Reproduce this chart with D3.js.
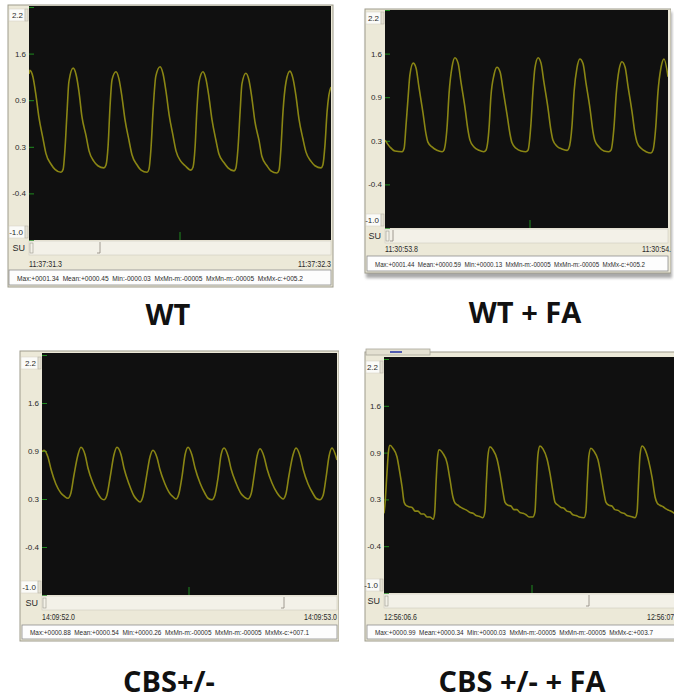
<!DOCTYPE html>
<html>
<head>
<meta charset="utf-8">
<title>Pressure traces - WT / CBS</title>
<script src="https://d3js.org/d3.v7.min.js"></script>
<style>
  body { margin: 0; background: #fff; }
  svg { display: block; }
  .small { font-family: "Liberation Sans", Arial, sans-serif; fill: #2a2a2a; }
  .tick text { font-family: "Liberation Sans", Arial, sans-serif; font-size: 8px; fill: #2a2a2a; }
</style>
</head>
<body>
<div id="vis"></div>
<script>
// ---- data (time in ms from window start, value in SU) ----
var wtTime = [0,3,13,23,33,46,56,73,86,106,113,119,126,132,
  146,156,166,175,189,199,215,228,248,255,262,268,275,
  288,298,308,318,331,341,358,371,391,397,404,411,420,
  434,444,454,464,477,487,503,517,536,543,550,556,563,
  576,586,596,606,619,629,646,659,679,685,692,699,705,
  718,728,738,748,762,771,788,801,821,828,834,841,851,
  864,874,884,894,907,917,934,947,967,973,980,987,993,1000];
var wtSU = [1.28,1.33,1.24,0.99,0.68,0.40,0.19,0.04,-0.03,-0.07,-0.03,0.24,0.76,1.17,
  1.36,1.27,1.02,0.70,0.43,0.22,0.08,0.02,-0.01,0.03,0.30,0.81,1.20,
  1.31,1.21,0.96,0.65,0.37,0.17,0.03,-0.04,-0.07,-0.03,0.26,0.79,1.25,
  1.38,1.28,1.03,0.72,0.43,0.22,0.08,0.02,-0.04,0.00,0.28,0.79,1.17,
  1.31,1.21,0.96,0.65,0.37,0.18,0.06,-0.01,-0.05,-0.01,0.26,0.76,1.14,
  1.29,1.20,0.95,0.63,0.36,0.15,0.02,-0.05,-0.08,-0.04,0.24,0.76,1.17,
  1.32,1.22,0.98,0.66,0.39,0.21,0.08,0.02,-0.01,0.03,0.30,0.76,0.99,1.10];

var wtFaTime = [0,17,34,59,66,72,79,86,
  97,107,117,131,141,148,162,179,197,203,214,221,231,
  241,252,262,276,286,293,307,324,341,348,359,365,376,
  386,397,407,421,431,438,452,469,486,493,503,510,517,
  528,538,548,562,572,579,593,610,628,634,645,652,662,
  672,683,693,707,717,724,738,755,772,779,790,797,807,
  817,828,838,852,862,869,883,900,917,924,934,941,952,
  962,976];
var wtFaSU = [0.29,0.19,0.13,0.12,0.17,0.48,0.88,1.25,
  1.42,1.35,1.07,0.69,0.39,0.26,0.19,0.14,0.12,0.14,0.48,0.98,1.36,
  1.50,1.42,1.14,0.76,0.44,0.29,0.19,0.14,0.12,0.14,0.48,0.92,1.25,
  1.36,1.29,1.03,0.66,0.38,0.25,0.17,0.13,0.12,0.14,0.51,1.00,1.35,
  1.50,1.42,1.14,0.76,0.44,0.29,0.20,0.16,0.14,0.17,0.51,1.00,1.35,
  1.48,1.41,1.13,0.75,0.42,0.28,0.19,0.13,0.12,0.14,0.50,0.95,1.32,
  1.44,1.36,1.08,0.70,0.39,0.26,0.17,0.12,0.10,0.14,0.50,0.98,1.36,
  1.48,1.22];

var cbsTime = [0,7,20,31,47,64,75,88,98,108,122,
  132,146,156,173,190,200,210,220,231,244,
  254,268,278,295,312,322,332,342,353,366,
  376,390,400,417,434,444,454,464,475,485,
  495,508,519,536,553,563,576,586,597,607,
  617,631,641,658,675,685,698,709,719,729,
  739,753,763,780,797,807,817,827,837,851,
  861,875,885,902,919,929,942,953,963,973,
  983,993,1000];
var cbsSU = [0.91,0.93,0.84,0.67,0.48,0.36,0.32,0.29,0.36,0.59,0.87,
  0.97,0.87,0.69,0.49,0.35,0.29,0.27,0.33,0.57,0.87,
  0.97,0.87,0.69,0.48,0.32,0.27,0.24,0.31,0.55,0.84,
  0.93,0.83,0.67,0.48,0.35,0.31,0.28,0.35,0.59,0.87,
  0.97,0.87,0.69,0.49,0.35,0.29,0.27,0.33,0.57,0.87,
  0.96,0.85,0.68,0.49,0.35,0.31,0.28,0.35,0.59,0.85,
  0.95,0.84,0.68,0.49,0.36,0.31,0.28,0.35,0.59,0.87,
  0.96,0.85,0.68,0.48,0.35,0.29,0.27,0.33,0.57,0.85,
  0.96,0.89,0.80];

var cbsFaTime = [0,3,10,15,20,30,44,52,61,68,74,84,95,105,115,125,135,145,155,166,171,176,181,
  186,199,213,223,233,240,250,260,270,280,291,301,311,321,334,341,346,351,
  358,368,382,392,402,409,419,429,439,449,459,470,480,490,503,510,515,520,
  527,537,551,561,571,578,588,598,608,618,628,638,649,659,676,682,687,692,
  699,709,723,733,743,750,760,770,780,791,801,811,821,831,848,855,860,865,
  872,882,895,906,916,923,932,943,953,963,973,986,1000];
var cbsFaSU = [0.09,0.20,0.64,0.93,1.02,0.98,0.86,0.68,0.45,0.24,0.20,0.18,0.17,0.12,0.12,0.08,0.08,0.04,0.04,0.01,0.09,0.52,0.86,
  0.96,0.91,0.78,0.55,0.31,0.23,0.20,0.17,0.15,0.13,0.10,0.09,0.06,0.05,0.03,0.11,0.52,0.87,
  1.00,0.96,0.83,0.63,0.38,0.24,0.20,0.19,0.14,0.14,0.10,0.09,0.07,0.04,0.04,0.11,0.52,0.89,
  1.01,0.97,0.83,0.63,0.38,0.24,0.20,0.17,0.16,0.12,0.11,0.07,0.06,0.04,0.03,0.11,0.52,0.87,
  0.98,0.94,0.82,0.61,0.37,0.24,0.20,0.19,0.14,0.13,0.10,0.09,0.06,0.05,0.03,0.11,0.52,0.89,
  1.01,0.96,0.79,0.57,0.31,0.23,0.20,0.18,0.15,0.13,0.11,0.08,0.07];

var yTickValues = [2.2, 1.56, 0.92, 0.28, -0.36, -1.0];
var yTickLabels = ["2.2", "1.6", "0.9", "0.3", "-0.4", "-1.0"];
var panelTitles = ["WT", "WT + FA", "CBS+/-", "CBS +/- + FA"];
var startLabels = ["11:37:31.3", "11:30:53.8", "14:09:52.0", "12:56:06.6"];
var endLabels = ["11:37:32.3", "11:30:54.8", "14:09:53.0", "12:56:07.6"];
var statusLabels = [
  "Max:+0001.34  Mean:+0000.45  Min:-0000.03  MxMn-m:-00005  MxMn-m:-00005  MxMx-c:+005.2",
  "Max:+0001.44  Mean:+0000.59  Min:+0000.13  MxMn-m:-00005  MxMn-m:-00005  MxMx-c:+005.2",
  "Max:+0000.88  Mean:+0000.54  Min:+0000.26  MxMn-m:-00005  MxMn-m:-00005  MxMx-c:+007.1",
  "Max:+0000.99  Mean:+0000.34  Min:+0000.03  MxMn-m:-00005  MxMn-m:-00005  MxMx-c:+003.7"
];

// ---- layout of each screenshot ----
var panels = [
  {time: wtTime, su: wtSU, fx0: 8, fy0: 5, fx1: 333, fy1: 287, px0: 29, px1: 331, plotEnd: 331, clipX: 334,
   py0: 6, py1: 240, sy0: 7, sy1: 240, timeY: 267, st0: 270, st1: 285, sx0: 9, sx1: 331, stLen: 286,
   thumbX: 100, midX: 180, titleX: 168, titleY: 325},
  {time: wtFaTime, su: wtFaSU, fx0: 365, fy0: 9, fx1: 671, fy1: 273, px0: 385, px1: 675, plotEnd: 668, clipX: 671,
   py0: 10, py1: 228, sy0: 10, sy1: 228, timeY: 252, st0: 256, st1: 271, sx0: 367, sx1: 668, stLen: 270,
   thumbX: 393, midX: 530, titleX: 525, titleY: 323, shadow: true},
  {time: cbsTime, su: cbsSU, fx0: 20, fy0: 351, fx1: 339, fy1: 641, px0: 42, px1: 337, plotEnd: 337, clipX: 339,
   py0: 353, py1: 595, sy0: 355, sy1: 595, timeY: 620, st0: 625, st1: 639, sx0: 22, sx1: 337, stLen: 279,
   thumbX: 284, midX: 189, titleX: 169, titleY: 692},
  {time: cbsFaTime, su: cbsFaSU, fx0: 365, fy0: 352, fx1: 690, fy1: 641, px0: 384, px1: 680, plotEnd: 680, clipX: 674,
   py0: 357, py1: 593, sy0: 359, sy1: 593, timeY: 620, st0: 625, st1: 639, sx0: 367, sx1: 690, stLen: 278,
   thumbX: 589, midX: 532, titleX: 522, titleY: 692, tab: true}
];

var svg = d3.select("#vis").append("svg").attr("width", 674).attr("height", 700);
var defs = svg.append("defs");
defs.append("filter").attr("id", "soft").append("feGaussianBlur").attr("stdDeviation", 1.6);

var green = "#1e8a1e";
var trace = "#8a8614";

panels.forEach(function (p, i) {
  var outer = svg.append("g");

  // drop shadow (only the WT + FA screenshot has one)
  if (p.shadow) {
    outer.append("rect")
      .attr("x", p.fx0 + 1).attr("y", p.fy0 + 3)
      .attr("width", p.fx1 - p.fx0).attr("height", p.fy1 - p.fy0 + 2)
      .attr("fill", "#a9a9a9").attr("filter", "url(#soft)");
  }

  defs.append("clipPath").attr("id", "panel" + i).append("rect")
    .attr("x", p.fx0 - 1).attr("y", p.fy0 - 6)
    .attr("width", p.clipX - p.fx0 + 1).attr("height", p.fy1 - p.fy0 + 12);
  defs.append("clipPath").attr("id", "plot" + i).append("rect")
    .attr("x", p.px0).attr("y", p.py0)
    .attr("width", p.plotEnd - p.px0).attr("height", p.py1 - p.py0);

  var g = outer.append("g").attr("clip-path", "url(#panel" + i + ")");

  // beige window frame
  g.append("rect")
    .attr("x", p.fx0).attr("y", p.fy0)
    .attr("width", p.fx1 - p.fx0).attr("height", p.fy1 - p.fy0)
    .attr("fill", "#ECE9D8").attr("stroke", "#9e9b8c").attr("stroke-width", 1);

  if (p.tab) {
    g.append("rect").attr("x", p.fx0 + 1).attr("y", p.fy0 - 3).attr("width", 64).attr("height", 6)
      .attr("fill", "#E4E1D2").attr("stroke", "#a9a699").attr("stroke-width", 0.8);
    g.append("line").attr("x1", p.fx0 + 25).attr("x2", p.fx0 + 37).attr("y1", p.fy0).attr("y2", p.fy0)
      .attr("stroke", "#2b3aa8").attr("stroke-width", 1.6);
  }

  // black plot area
  g.append("rect")
    .attr("x", p.px0).attr("y", p.py0)
    .attr("width", p.plotEnd - p.px0).attr("height", p.py1 - p.py0)
    .attr("fill", "#101010");

  var x = d3.scaleLinear().domain([0, 1000]).range([p.px0, p.px1]);
  var y = d3.scaleLinear().domain([-1.0, 2.2]).range([p.sy1, p.sy0]);

  // y axis: green ticks pointing into the plot, labels in the beige margin
  var ax = g.append("g").attr("transform", "translate(" + p.px0 + ",0)")
    .call(d3.axisLeft(y).tickValues(yTickValues)
      .tickFormat(function (d, k) { return yTickLabels[k]; })
      .tickSize(-5).tickPadding(3));
  ax.select(".domain").remove();
  ax.selectAll(".tick line").attr("stroke", green).attr("stroke-width", 1);
  ax.selectAll(".tick text").filter(function (d, k) { return k === 0 || k === yTickValues.length - 1; }).remove();

  // end-of-scale boxes (2.2 on top, -1.0 at bottom) with small spinners
  [[yTickLabels[0], p.sy0 + 2], [yTickLabels[yTickLabels.length - 1], p.sy1 - 14]].forEach(function (b) {
    g.append("rect").attr("x", p.fx0 + 1).attr("y", b[1]).attr("width", p.px0 - p.fx0 - 5).attr("height", 12)
      .attr("fill", "#fbfbf8").attr("stroke", "#d2cfc3").attr("stroke-width", 0.5);
    g.append("rect").attr("x", p.px0 - 4).attr("y", b[1]).attr("width", 3).attr("height", 12)
      .attr("fill", "#e3e0d2").attr("stroke", "#b0ad9f").attr("stroke-width", 0.5);
    g.append("text").attr("class", "small").attr("x", p.px0 - 6).attr("y", b[1] + 9)
      .attr("text-anchor", "end").attr("font-size", 8).text(b[0]);
  });

  // the trace
  var line = d3.line()
    .x(function (d, k) { return x(p.time[k]); })
    .y(function (d) { return y(d); })
    .curve(d3.curveMonotoneX);
  g.append("path").datum(p.su)
    .attr("clip-path", "url(#plot" + i + ")")
    .attr("d", line)
    .attr("fill", "none").attr("stroke", trace).attr("stroke-width", 1.6)
    .attr("stroke-linejoin", "round");

  // small green marker at the bottom of the plot
  g.append("line").attr("x1", p.midX).attr("x2", p.midX).attr("y1", p.py1 - 8).attr("y2", p.py1)
    .attr("stroke", green).attr("stroke-width", 1);

  // SU scroll row
  g.append("rect").attr("x", p.px0).attr("y", p.py1 + 1).attr("width", p.plotEnd - p.px0).attr("height", 14)
    .attr("fill", "#F3F1E8").attr("stroke", "#cfccbf").attr("stroke-width", 0.6);
  g.append("rect").attr("x", p.px0 + 1).attr("y", p.py1 + 3).attr("width", 3).attr("height", 10)
    .attr("fill", "none").attr("stroke", "#9a978a").attr("stroke-width", 0.6);
  g.append("text").attr("class", "small").attr("x", p.px0 - 4).attr("y", p.py1 + 11)
    .attr("text-anchor", "end").attr("font-size", 9).text("SU");
  g.append("path")
    .attr("d", "M" + p.thumbX + "," + (p.py1 + 2) + "V" + (p.py1 + 13) + "H" + (p.thumbX - 3))
    .attr("fill", "none").attr("stroke", "#8a877b").attr("stroke-width", 0.8);

  // time stamps of the window
  g.append("text").attr("class", "small").attr("x", p.px0).attr("y", p.timeY)
    .attr("font-size", 9).attr("textLength", 33).attr("lengthAdjust", "spacingAndGlyphs")
    .text(startLabels[i]);
  g.append("text").attr("class", "small").attr("x", p.px1 - 33).attr("y", p.timeY)
    .attr("font-size", 9).attr("textLength", 33).attr("lengthAdjust", "spacingAndGlyphs")
    .text(endLabels[i]);

  // status bar
  g.append("rect").attr("x", p.sx0).attr("y", p.st0).attr("width", p.sx1 - p.sx0).attr("height", p.st1 - p.st0)
    .attr("fill", "#fdfdfd").attr("stroke", "#8d8d8d").attr("stroke-width", 0.8);
  g.append("text").attr("class", "small").attr("x", p.sx0 + 8).attr("y", p.st1 - 4.5)
    .attr("font-size", 6.5).style("white-space", "pre")
    .attr("textLength", p.stLen).attr("lengthAdjust", "spacingAndGlyphs")
    .text(statusLabels[i]);

  // group title under the screenshot
  svg.append("text")
    .attr("x", p.titleX).attr("y", p.titleY)
    .attr("text-anchor", "middle")
    .attr("font-family", "'Open Sans', 'Liberation Sans', sans-serif")
    .attr("font-weight", 700).attr("font-size", 29).attr("fill", "#111")
    .text(panelTitles[i]);
});
</script>
</body>
</html>
